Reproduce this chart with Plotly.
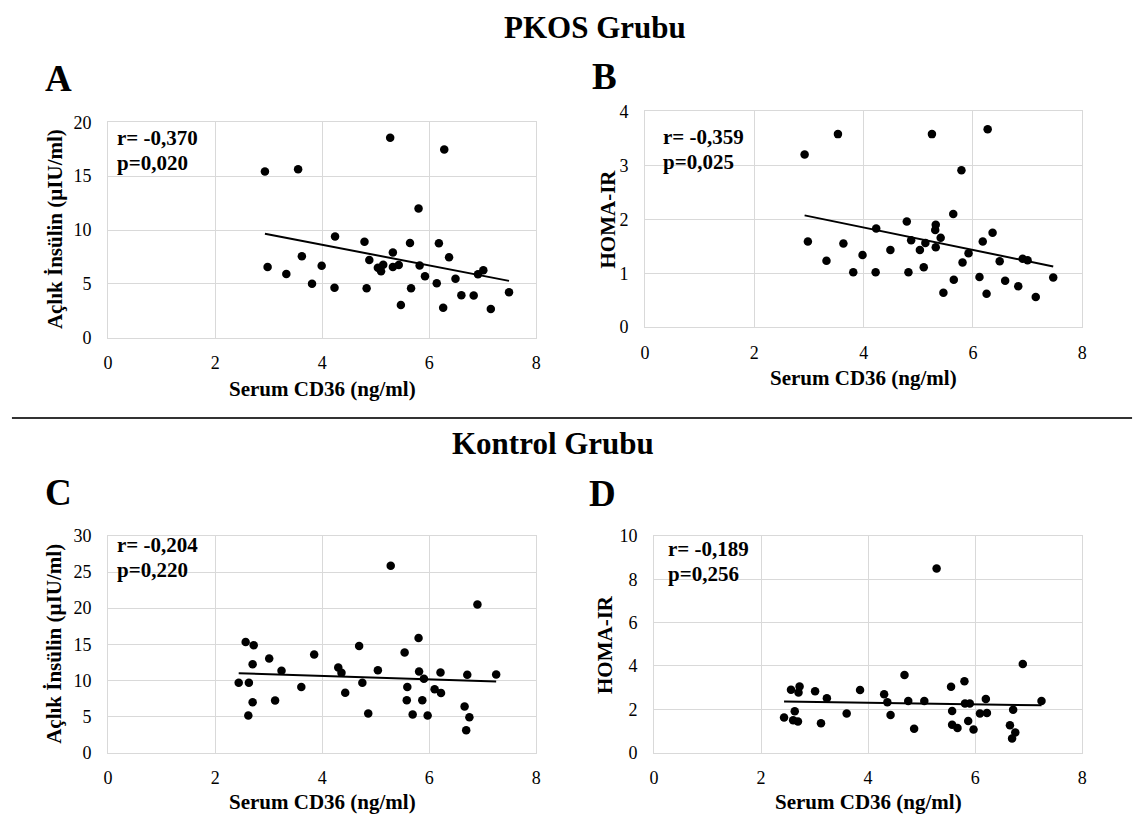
import numpy as np
import plotly.graph_objects as go

W, H = 1144, 827
SERIF = "Liberation Serif"

# ---------------- data ----------------
# PKOS group: fasting insulin vs serum CD36
a_cd36 = [2.93, 3.55, 5.27, 6.28, 5.80, 4.24, 4.79, 5.64, 6.18, 5.32, 3.62, 6.37, 4.88,
          2.98, 3.99, 5.04, 5.14, 5.10, 5.32, 5.43, 5.82, 3.33, 5.92, 6.49, 6.91, 7.01,
          3.81, 6.14, 4.23, 4.83, 5.66, 6.60, 6.83, 7.49, 5.47, 6.26, 7.15]
a_insulin = [15.42, 15.63, 18.55, 17.47, 11.99, 9.40, 8.92, 8.80, 8.77, 7.92, 7.56, 7.47, 7.23,
             6.57, 6.69, 6.51, 6.78, 6.17, 6.57, 6.75, 6.72, 5.93, 5.72, 5.48, 5.90, 6.27,
             5.03, 5.06, 4.64, 4.61, 4.61, 3.95, 3.92, 4.22, 3.04, 2.80, 2.68]

# PKOS group: HOMA-IR vs serum CD36
b_cd36 = [2.92, 3.53, 5.25, 6.27, 5.79, 5.64, 4.79, 5.32, 5.31, 4.23, 5.41, 6.36, 2.98,
          3.63, 4.87, 5.13, 6.18, 5.32, 5.03, 4.49, 3.98, 5.92, 3.32, 5.81, 6.49, 6.91,
          7.00, 3.81, 4.22, 4.82, 5.10, 5.65, 6.12, 6.59, 6.83, 7.47, 5.46, 6.25, 7.15]
b_homa = [3.20, 3.58, 3.58, 3.67, 2.91, 2.10, 1.96, 1.90, 1.80, 1.83, 1.66, 1.75, 1.59,
          1.55, 1.61, 1.56, 1.59, 1.48, 1.43, 1.43, 1.34, 1.37, 1.23, 1.20, 1.22, 1.27,
          1.24, 1.02, 1.02, 1.02, 1.11, 0.88, 0.93, 0.86, 0.76, 0.92, 0.64, 0.62, 0.56]

# Control group: fasting insulin vs serum CD36
c_cd36 = [5.28, 6.90, 2.57, 2.72, 5.80, 4.69, 5.54, 3.85, 3.01, 2.70, 4.30, 3.24, 5.04,
          4.36, 5.81, 6.21, 6.71, 7.25, 5.90, 2.44, 2.63, 4.75, 3.61, 5.59, 6.10, 6.22,
          4.43, 2.70, 3.12, 5.58, 5.87, 4.86, 2.62, 5.69, 5.97, 6.66, 6.75, 6.69]
c_insulin = [25.86, 20.50, 15.32, 14.86, 15.86, 14.77, 13.87, 13.60, 13.02, 12.25, 11.80, 11.35, 11.40,
             11.04, 11.22, 11.08, 10.77, 10.81, 10.23, 9.68, 9.68, 9.68, 9.10, 9.10, 8.78, 8.24,
             8.29, 6.98, 7.21, 7.25, 7.25, 5.41, 5.14, 5.27, 5.14, 6.40, 4.91, 3.11]

# Control group: HOMA-IR vs serum CD36
d_cd36 = [5.28, 6.89, 4.68, 5.80, 5.55, 2.56, 2.72, 2.70, 3.01, 3.85, 4.30, 3.23, 4.36,
          4.75, 5.05, 5.81, 5.90, 6.20, 7.24, 2.63, 2.43, 2.60, 2.69, 3.60, 4.42, 5.57,
          6.09, 6.22, 6.71, 3.12, 5.87, 5.57, 5.67, 5.97, 4.86, 6.65, 6.75, 6.69]
d_homa = [8.50, 4.09, 3.58, 3.29, 3.04, 2.90, 3.05, 2.77, 2.83, 2.89, 2.69, 2.51, 2.32,
          2.38, 2.38, 2.27, 2.27, 2.47, 2.38, 1.91, 1.62, 1.49, 1.44, 1.80, 1.74, 1.92,
          1.80, 1.83, 1.98, 1.35, 1.46, 1.29, 1.13, 1.07, 1.10, 1.26, 0.93, 0.65]

stats_a = ["r= -0,370", "p=0,020"]
stats_b = ["r= -0,359", "p=0,025"]
stats_c = ["r= -0,204", "p=0,220"]
stats_d = ["r= -0,189", "p=0,256"]

x_label = "Serum CD36 (ng/ml)"
y_insulin = "Açlık İnsülin (µIU/ml)"
y_homa = "HOMA-IR"


def fx(x):
    return x / W


def fy(y):
    return 1 - y / H


fig = go.Figure()

# (axis suffix, x data, y data, y range, y dtick, x-domain px, y-domain px)
panels = [
    ("", a_cd36, a_insulin, 20, 5, (104, 536), (115, 336)),
    ("2", b_cd36, b_homa, 4, 1, (645.7, 1086.7), (104, 325)),
    ("3", c_cd36, c_insulin, 30, 5, (104, 536), (539, 761)),
    ("4", d_cd36, d_homa, 10, 2, (654.7, 1086.7), (539, 761)),
]

grid = "#d9d9d9"
for suf, xs, ys, ymax, dt, (x0, x1), (y0, y1) in panels:
    xa, ya = "x" + suf, "y" + suf
    fig.add_trace(go.Scatter(
        x=xs, y=ys, mode="markers", xaxis=xa, yaxis=ya,
        marker=dict(color="black", size=8.5, line=dict(width=0)),
        showlegend=False, hoverinfo="x+y"))
    # least-squares trend line over the observed CD36 span
    slope, icpt = np.polyfit(xs, ys, 1)
    lx = np.array([min(xs), max(xs)])
    fig.add_trace(go.Scatter(
        x=lx, y=slope * lx + icpt, mode="lines", xaxis=xa, yaxis=ya,
        line=dict(color="black", width=2), showlegend=False, hoverinfo="skip"))
    common = dict(showgrid=True, gridcolor=grid, gridwidth=1, zeroline=False,
                  showline=True, linecolor=grid, linewidth=1, mirror=True, ticks="",
                  tickfont=dict(family=SERIF, size=18, color="black"))
    fig.update_layout(**{
        "xaxis" + suf: dict(domain=[fx(x0), fx(x1)], range=[0, 8], dtick=2,
                            anchor=ya, ticklabelstandoff=9, **common),
        "yaxis" + suf: dict(domain=[fy(y1), fy(y0)], range=[0, ymax], dtick=dt,
                            anchor=xa, ticklabelstandoff=12, **common),
    })

ann = []


def txt(x, y, s, size, bold=True, angle=0, xanchor="center", yanchor="middle"):
    ann.append(dict(x=fx(x), y=fy(y), xref="paper", yref="paper", text=s,
                    showarrow=False, textangle=angle, xanchor=xanchor, yanchor=yanchor,
                    font=dict(family=SERIF, size=size, color="black",
                              weight="bold" if bold else "normal")))


# group headings
txt(595, 18, "PKOS Grubu", 31)
txt(553, 444, "Kontrol Grubu", 31)

# panel letters
txt(54, 70, "A", 37)
txt(605, 68, "B", 37)
txt(54, 494, "C", 37)
txt(603, 495, "D", 37)

# axis titles
txt(320, 388, x_label, 21)
txt(866, 377, x_label, 21)
txt(320, 812, x_label, 21)
txt(871, 812, x_label, 21)
txt(50, 225, y_insulin, 21, angle=-90)
txt(608, 214, y_homa, 21, angle=-90)
txt(50, 650, y_insulin, 21, angle=-90)
txt(606, 650, y_homa, 21, angle=-90)

# correlation statistics
for (lx, ly), st in zip([(111, 131), (662, 130), (111, 548), (667, 552)],
                        [stats_a, stats_b, stats_c, stats_d]):
    txt(lx, ly, st[0], 21, xanchor="left")
    txt(lx, ly + 26, st[1], 21, xanchor="left")

fig.update_layout(
    annotations=ann,
    width=W, height=H,
    margin=dict(l=0, r=0, t=0, b=0),
    paper_bgcolor="white", plot_bgcolor="white",
    shapes=[dict(type="line", xref="paper", yref="paper",
                 x0=fx(7), x1=fx(1137), y0=fy(418), y1=fy(418),
                 line=dict(color="#333333", width=2))],
)

fig.write_html("out.html")
